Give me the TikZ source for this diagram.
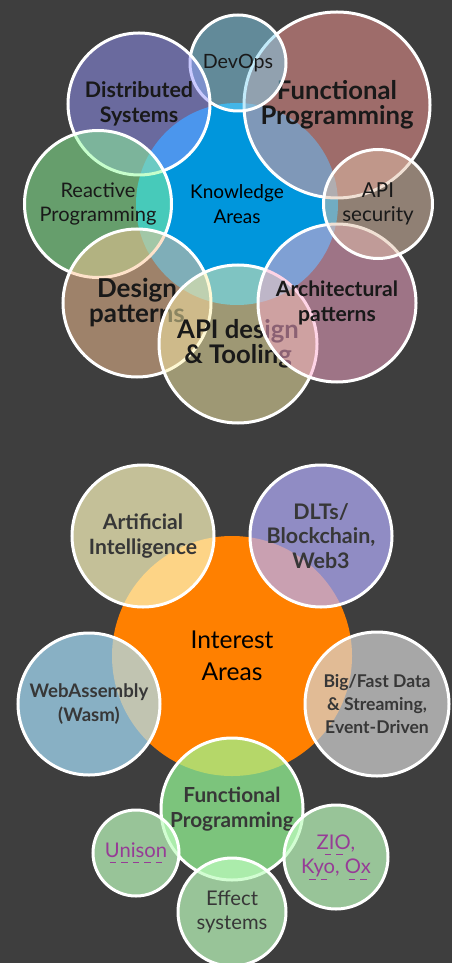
\documentclass[tikz,border=0pt]{standalone}
\usepackage{fontspec}
\setmainfont{Lato}

\definecolor{bgdark}{RGB}{62,62,62}
\definecolor{kblue}{RGB}{0,150,220}
\definecolor{korange}{RGB}{255,128,0}
\definecolor{cdevops}{RGB}{134,214,244}
\definecolor{cfunc}{RGB}{254,154,150}
\definecolor{cdist}{RGB}{150,150,254}
\definecolor{creact}{RGB}{142,254,154}
\definecolor{csec}{RGB}{226,194,170}
\definecolor{cdesign}{RGB}{254,198,150}
\definecolor{capi}{RGB}{254,242,170}
\definecolor{carch}{RGB}{254,170,206}
\definecolor{cai}{RGB}{253,248,191}
\definecolor{cdlt}{RGB}{179,174,253}
\definecolor{cwasm}{RGB}{168,225,253}
\definecolor{cdata}{RGB}{213,213,213}
\definecolor{cfp}{RGB}{151,253,151}
\definecolor{cfpsub}{RGB}{191,253,191}
\definecolor{txtdark}{RGB}{25,25,25}
\definecolor{txtgrey}{RGB}{55,55,55}
\definecolor{linkpurple}{RGB}{150,60,150}

% dashed underline for the links
\newcommand{\dashlink}[1]{\leavevmode\setbox0=\hbox{#1}\rlap{\hbox to \wd0{\cleaders\hbox to 6.5pt{\hss\vrule width 3.6pt height -2.8pt depth 3.4pt\hss}\hfill}}\box0}

\begin{document}
\begin{tikzpicture}[x=0.2mm, y=-0.2mm]
	\tikzstyle{area}=[circle, inner sep=0, align=center, text=black]
	\tikzstyle{topic}=[circle, draw=white, line width=0.6mm, inner sep=0, align=center, fill opacity=0.5, text opacity=1, text=txtdark]
	\tikzstyle{interest}=[topic, fill opacity=0.7, text=txtgrey]
	% Background
	\fill[bgdark] (0,0) rectangle (452,963);
	\useasboundingbox (0,0) rectangle (452,963);
	%---------------------%
	% Knowledge areas
	\node at (237, 204) [area, fill=kblue, minimum size=40.4mm, font=\fontsize{10.8}{14.5}\selectfont] (knowledge) {Knowledge\\Areas};
	\node at (337, 105) [topic, fill=cfunc, minimum size=37.2mm, font=\fontsize{14.6}{14.2}\selectfont\bfseries] (kfunctional) {Functional\\Programming};
	\node at (238, 63) [topic, fill=cdevops, minimum size=19.2mm, font=\fontsize{11.2}{14}\selectfont] (devops) {DevOps};
	\node at (139, 104) [topic, fill=cdist, minimum size=28.4mm, font=\fontsize{12.2}{14}\selectfont\bfseries] (distributed) {Distributed\\Systems};
	\node at (98, 204) [topic, fill=creact, minimum size=29.4mm, font=\fontsize{11.4}{13.5}\selectfont] (reactive) {Reactive\\Programming};
	\node at (137, 303) [topic, fill=cdesign, minimum size=29.6mm, font=\fontsize{14.8}{14.2}\selectfont\bfseries] (design) {Design\\patterns};
	\node at (238, 344) [topic, fill=capi, minimum size=31.6mm, font=\fontsize{14.6}{14.2}\selectfont\bfseries] (apidesign) {API design\\\& Tooling};
	\node at (337, 303) [topic, fill=carch, minimum size=31.6mm, font=\fontsize{12}{14}\selectfont\bfseries] (architectural) {Architectural\\patterns};
	\node at (378, 204) [topic, fill=csec, minimum size=21.8mm, font=\fontsize{11.7}{13.5}\selectfont] (apisecurity) {API\\security};
	%---------------------%
	% Interest areas
	\node at (232, 656) [area, fill=korange, minimum size=48mm, font=\fontsize{14}{18}\selectfont] (interest) {Interest\\Areas};
	\node at (143, 536) [interest, fill=cai, minimum size=28.4mm, font=\fontsize{12}{14}\selectfont\bfseries] (ai) {Artificial\\Intelligence};
	\node at (321, 536) [interest, fill=cdlt, minimum size=28.4mm, font=\fontsize{12.2}{14}\selectfont\bfseries] (dlt) {DLTs/\\Blockchain,\\Web3};
	\node at (89, 704) [interest, fill=cwasm, minimum size=28.4mm, font=\fontsize{10.6}{13.5}\selectfont\bfseries] (wasm) {WebAssembly\\(Wasm)};
	\node at (377, 704) [interest, fill=cdata, minimum size=28.8mm, font=\fontsize{10}{13.3}\selectfont\bfseries] (bigdata) {Big/Fast Data\\\& Streaming,\\Event-Driven};
	\node at (232, 809) [interest, fill=cfp, minimum size=28.4mm, font=\fontsize{11.8}{14.5}\selectfont\bfseries] (ifunctional) {Functional\\Programming};
	% Functional programming -> sub topics
	\node at (136, 853) [interest, fill=cfpsub, minimum size=17.2mm, text=linkpurple, font=\fontsize{11.5}{14}\selectfont] (unison) {\dashlink{Unison}};
	\node at (336, 857) [interest, fill=cfpsub, minimum size=20.8mm, text=linkpurple, font=\fontsize{11.5}{14}\selectfont] (zio) {\dashlink{ZIO},\\\dashlink{Kyo}, \dashlink{Ox}};
	\node at (232, 912) [interest, fill=cfpsub, minimum size=21.6mm, font=\fontsize{11.5}{13.5}\selectfont] (effect) {Effect\\systems};
	%---------------------%
\end{tikzpicture}
\end{document}
